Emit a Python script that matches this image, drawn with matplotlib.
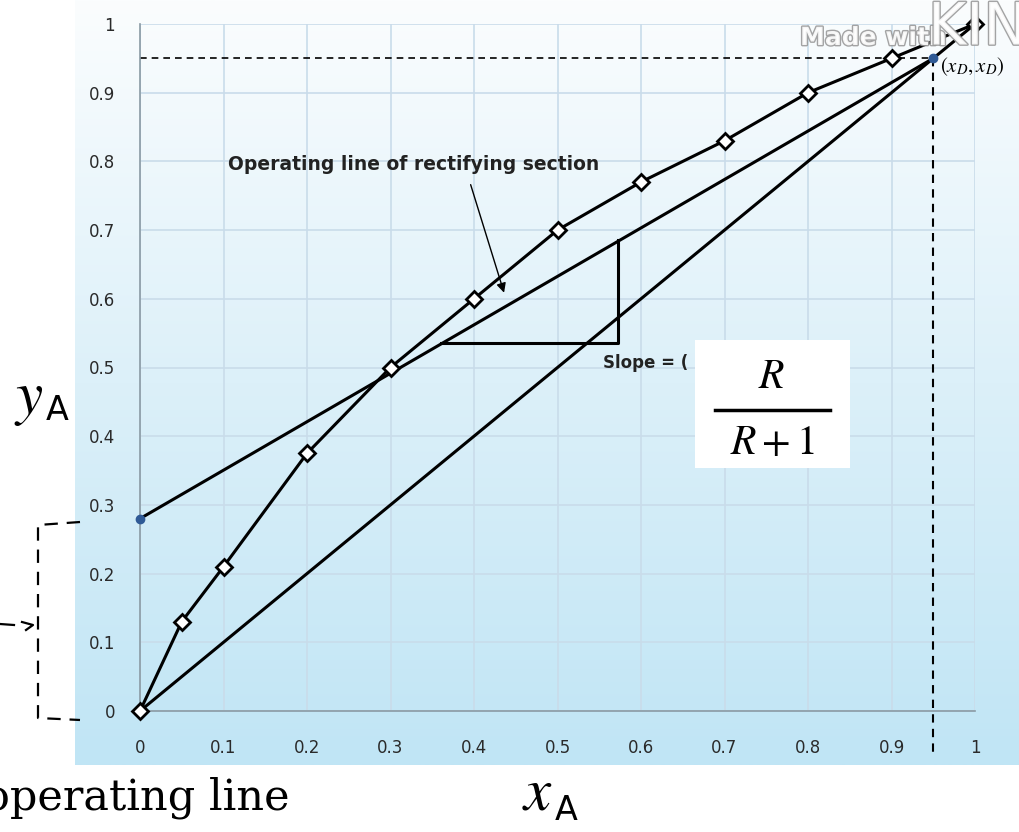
import numpy as np
import matplotlib
matplotlib.use('Agg')
import matplotlib.pyplot as plt
import matplotlib.patheffects as pe
from matplotlib.colors import LinearSegmentedColormap
from matplotlib.lines import Line2D

plt.rcParams['mathtext.fontset'] = 'stix'

# equilibrium curve (diamond markers)
x_eq = [0, 0.05, 0.1, 0.2, 0.3, 0.4, 0.5, 0.6, 0.7, 0.8, 0.9, 1.0]
y_eq = [0, 0.13, 0.21, 0.375, 0.5, 0.6, 0.7, 0.77, 0.83, 0.9, 0.95, 1.0]

# diagonal y = x
x_diag = [0, 1]
y_diag = [0, 1]

# rectifying operating line, intercept -> (xD, xD)
xD = 0.95
intercept = 0.28
x_op = [0, xD]
y_op = [intercept, xD]

# slope triangle
tri_x = [0.36, 0.573, 0.573]
tri_y = [0.535, 0.535, 0.686]

ticks = [0, 0.1, 0.2, 0.3, 0.4, 0.5, 0.6, 0.7, 0.8, 0.9, 1]
tick_labels = ['0', '0.1', '0.2', '0.3', '0.4', '0.5', '0.6', '0.7', '0.8', '0.9', '1']

W, H = 1019, 832
fig = plt.figure(figsize=(W / 100, H / 100), dpi=100)

# gradient background panel
bg = fig.add_axes([75 / W, 1 - 765 / H, (W - 75) / W, 765 / H])
cmap = LinearSegmentedColormap.from_list('bg', ['#fbfdfe', '#dcf0f9', '#c0e5f5'])
grad = np.linspace(0, 1, 256).reshape(-1, 1)
bg.imshow(grad, aspect='auto', cmap=cmap, extent=[0, 1, 0, 1])
bg.axis('off')

ax = fig.add_axes([140 / W, 1 - 711 / H, 835 / W, 687 / H])
ax.patch.set_alpha(0)
ax.set_xlim(0, 1)
ax.set_ylim(0, 1)
ax.set_xticks(ticks)
ax.set_xticklabels(tick_labels)
ax.set_yticks(ticks)
ax.set_yticklabels(tick_labels)
ax.tick_params(length=0, labelsize=12, colors='#2a2a2a')
ax.tick_params(axis='x', pad=20)
ax.tick_params(axis='y', pad=18)
ax.grid(True, color='#c9dcea', linewidth=1.2)
ax.set_axisbelow(True)
for s in ['top', 'right']:
    ax.spines[s].set_visible(False)
for s in ['left', 'bottom']:
    ax.spines[s].set_color('#8a9aa4')
    ax.spines[s].set_linewidth(1.2)

# dashed guides to (xD, xD)
ax.plot([0, xD], [xD, xD], 'k--', lw=1.2, dashes=(4, 3), clip_on=False)
ax.plot([xD, xD], [xD, -0.067], 'k--', lw=1.5, dashes=(4, 3), clip_on=False)

ax.plot(x_diag, y_diag, color='black', lw=2.2, clip_on=False)
ax.plot(x_op, y_op, color='black', lw=2.2, clip_on=False)
ax.plot(tri_x, tri_y, color='black', lw=2.2)
ax.plot(x_eq, y_eq, color='black', lw=2.2, marker='D', markersize=8,
        markerfacecolor='white', markeredgecolor='black', markeredgewidth=2,
        clip_on=False, zorder=5)
ax.plot([0, xD], [intercept, xD], 'o', color='#2f5a96', markersize=6,
        clip_on=False, zorder=6)

ax.text((228 - 140) / 835, 0.795, 'Operating line of rectifying section',
        fontsize=13.5, fontweight='bold', color='#222222', va='center')
ax.annotate('', xy=(0.437, 0.605), xytext=(0.395, 0.77),
            arrowprops=dict(arrowstyle='-|>', color='black', lw=1,
                            mutation_scale=14))
ax.text((603 - 140) / 835, (711 - 363) / 687, 'Slope = (', fontsize=12,
        fontweight='bold', color='#222222', va='center')

# white box with R/(R+1)
fig.patches.append(plt.Rectangle((695 / W, 1 - 468 / H), 155 / W, 128 / H,
                                 transform=fig.transFigure, facecolor='white',
                                 edgecolor='none', zorder=10))
fig.text(772 / W, 1 - 376 / H, '$R$', fontsize=30, ha='center', va='center', zorder=11)
fig.lines.append(Line2D([715 / W, 830 / W], [1 - 410 / H, 1 - 410 / H],
                        transform=fig.transFigure, color='black', lw=2.5, zorder=11))
fig.text(772 / W, 1 - 442 / H, '$R+1$', fontsize=30, ha='center', va='center', zorder=11)

fig.text(940 / W, 1 - 67 / H, r'$(x_D, x_D)$', fontsize=15, va='center', ha='left')

# watermark
fig.text(800 / W, 1 - 38 / H, 'Made with', fontsize=18, fontweight='bold',
         color='white', alpha=0.9, va='center',
         path_effects=[pe.withStroke(linewidth=2, foreground='#9a9a9a')])
fig.text(928 / W, 1 - 28 / H, 'KIN', fontsize=42, color='white', alpha=0.9,
         va='center', path_effects=[pe.withStroke(linewidth=2, foreground='#9a9a9a')])

# axis labels
fig.text(14 / W, 1 - 398 / H, '$y$', fontsize=44, va='center', ha='left')
fig.text(46 / W, 1 - 410 / H, 'A', fontsize=24, va='center', ha='left')
fig.text(522 / W, 1 - 793 / H, '$x$', fontsize=44, va='center', ha='left')
fig.text(555 / W, 1 - 810 / H, 'A', fontsize=24, va='center', ha='left')

fig.text(290 / W, 1 - 798 / H, 'operating line', fontsize=31, family='DejaVu Serif',
         ha='right', va='center')

# dashed bracket on the left
bx = [80 / W, 38 / W, 38 / W, 80 / W]
by = [1 - 522 / H, 1 - 525 / H, 1 - 718 / H, 1 - 720 / H]
fig.lines.append(Line2D(bx, by, transform=fig.transFigure, color='black',
                        lw=1.6, ls=(0, (6, 4))))
fig.lines.append(Line2D([0, 14 / W], [1 - 624 / H, 1 - 625 / H],
                        transform=fig.transFigure, color='black', lw=1.6))
fig.lines.append(Line2D([22 / W, 33 / W, 26 / W], [1 - 622 / H, 1 - 625 / H, 1 - 630 / H],
                        transform=fig.transFigure, color='black', lw=1.6))

fig.savefig('out.png', dpi=100)
